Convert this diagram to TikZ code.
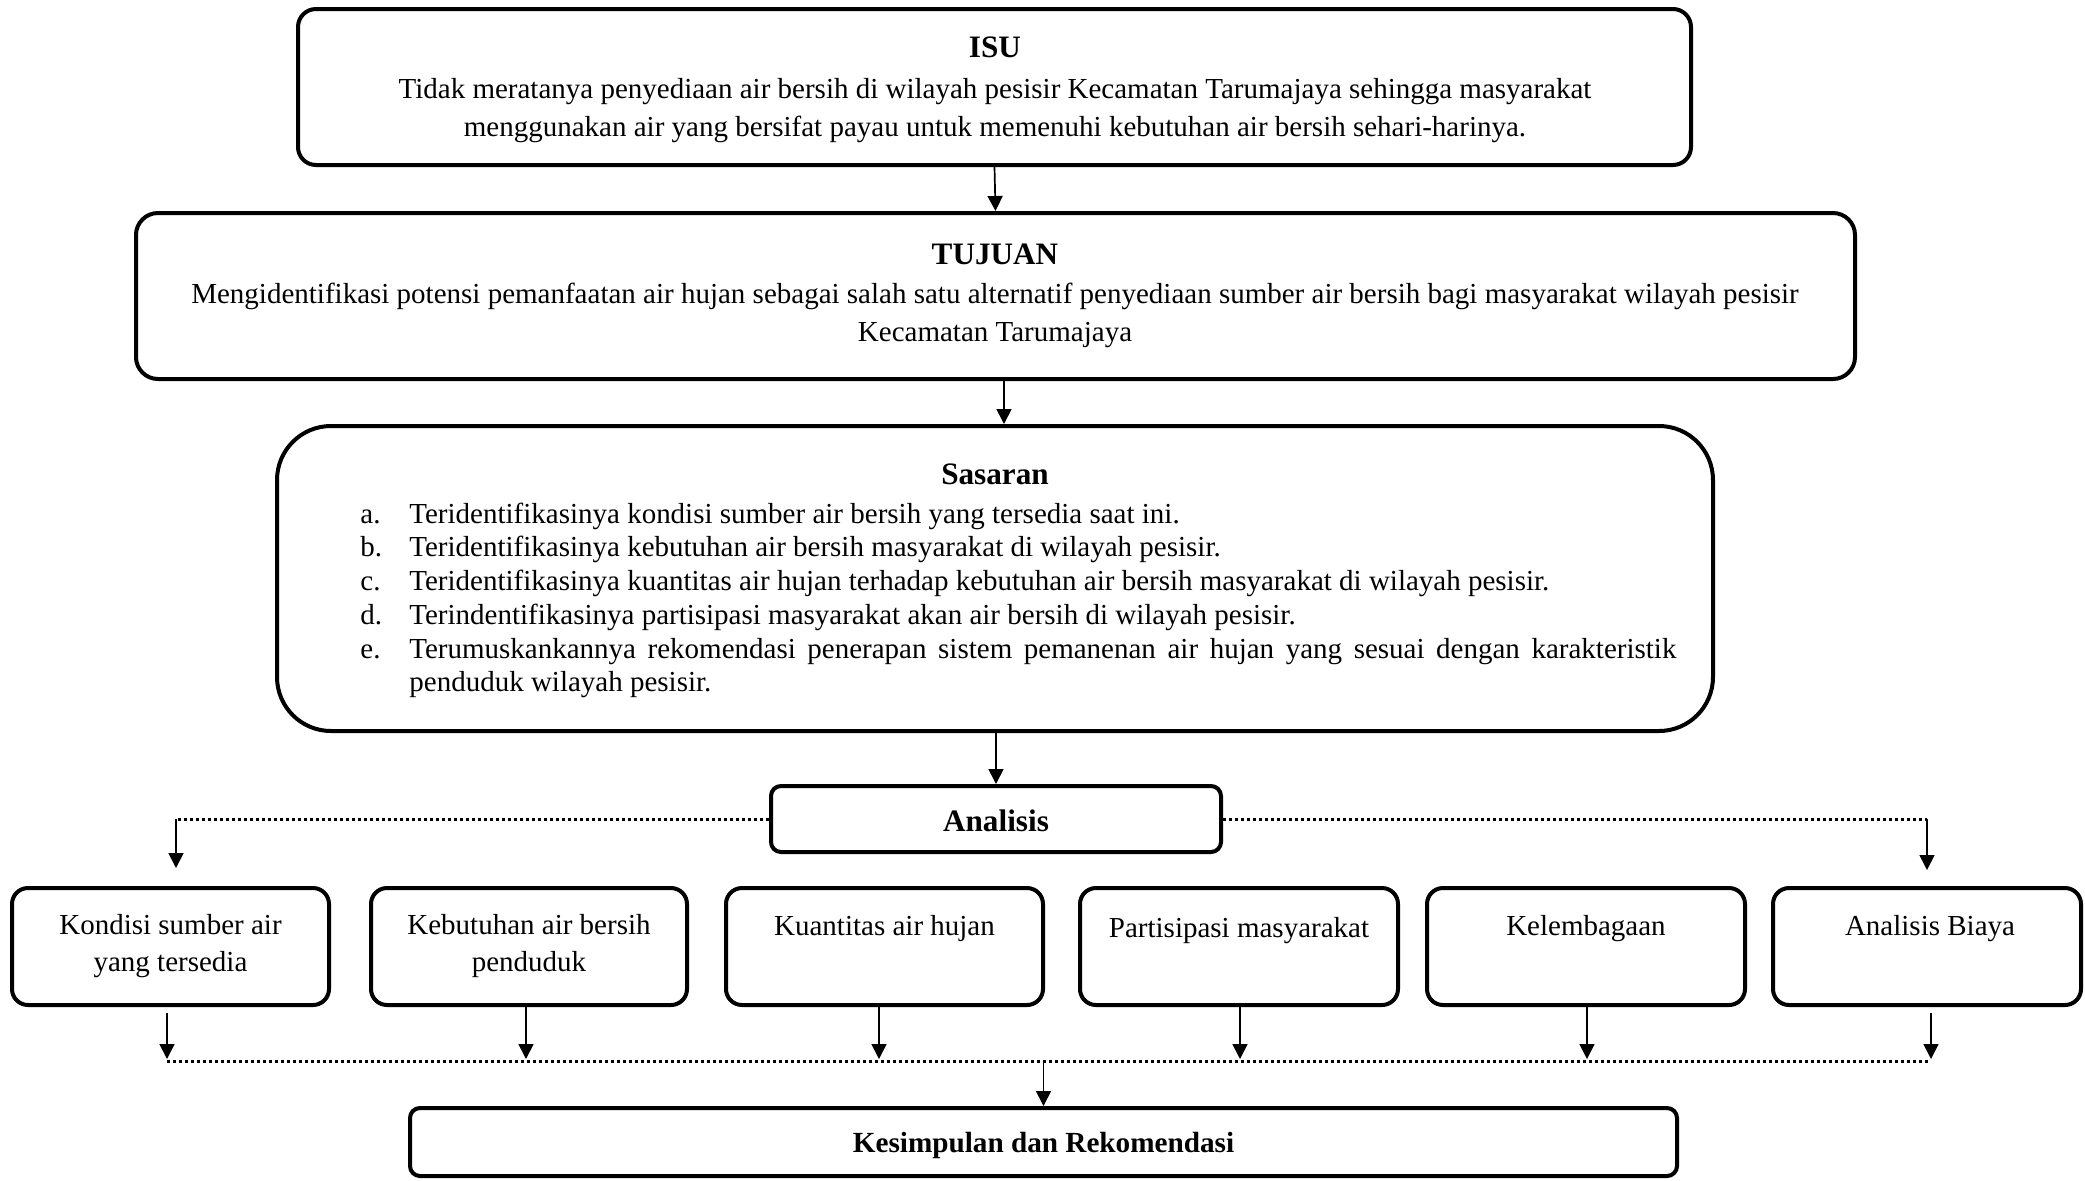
\documentclass[tikz,border=0pt]{standalone}
\usepackage{fontspec}
\setmainfont{Liberation Serif}
\usetikzlibrary{arrows.meta,fit}
\begin{document}
\begin{tikzpicture}[x=0.5pt,y=-0.5pt,
  bx/.style={draw, line width=2pt, rounded corners=#1, inner sep=0pt},
  txt/.style={inner sep=0pt, text height=0.7em, text depth=0.25em, yshift=-1.8pt, font=\fontsize{14.5}{18}\selectfont},
  ttl/.style={inner sep=0pt, text height=0.7em, text depth=0.25em, font=\fontsize{15.6}{19}\selectfont\bfseries},
  arr/.style={line width=0.85pt, -{Triangle[length=7.5pt,width=7.5pt]}},
  dots/.style={line width=1.5pt, dash pattern=on 1.5pt off 1.5pt},
]
\useasboundingbox (0,0) rectangle (2085,1180);

% ---- boxes
\node[bx=9pt,  fit={(298,9) (1691,165)}] (isu) {};
\node[bx=11pt, fit={(136,213) (1855,379)}] (tujuan) {};
\node[bx=27pt, fit={(277,426) (1713,731)}] (sasaran) {};
\node[bx=5pt,  fit={(771,786) (1221,852)}] (analisis) {};
\node[bx=8pt,  fit={(12,888) (329,1005)}] (b1) {};
\node[bx=8pt,  fit={(371,888) (687,1005)}] (b2) {};
\node[bx=8pt,  fit={(726,888) (1043,1005)}] (b3) {};
\node[bx=8pt,  fit={(1080,888) (1398,1005)}] (b4) {};
\node[bx=8pt,  fit={(1427,888) (1745,1005)}] (b5) {};
\node[bx=8pt,  fit={(1773,888) (2081,1005)}] (b6) {};
\node[bx=5pt,  fit={(410,1108) (1677,1176)}] (kes) {};

% ---- ISU text
\node[ttl] (isu-t) at (995,53) {ISU};
\node[txt] (isu-1) at (995,90) {Tidak meratanya penyediaan air bersih di wilayah pesisir Kecamatan Tarumajaya sehingga masyarakat};
\node[txt] (isu-2) at (995,128) {menggunakan air yang bersifat payau untuk memenuhi kebutuhan air bersih sehari-harinya.};

% ---- TUJUAN text
\node[ttl] (tuj-t) at (995,260) {TUJUAN};
\node[txt] (tuj-1) at (995,295) {Mengidentifikasi potensi pemanfaatan air hujan sebagai salah satu alternatif penyediaan sumber air bersih bagi masyarakat wilayah pesisir};
\node[txt] (tuj-2) at (995,333) {Kecamatan Tarumajaya};

% ---- Sasaran text
\node[ttl] (sas-t) at (995,480) {Sasaran};
\node[txt, anchor=west] (la) at (360,515) {a.};
\node[txt, anchor=west] (lb) at (360,548) {b.};
\node[txt, anchor=west] (lc) at (360,582) {c.};
\node[txt, anchor=west] (ld) at (360,616) {d.};
\node[txt, anchor=west] (le) at (360,650) {e.};
\node[txt, anchor=west] (ia) at (409,515) {Teridentifikasinya kondisi sumber air bersih yang tersedia saat ini.};
\node[txt, anchor=west] (ib) at (409,548) {Teridentifikasinya kebutuhan air bersih masyarakat di wilayah pesisir.};
\node[txt, anchor=west] (ic) at (409,582) {Teridentifikasinya kuantitas air hujan terhadap kebutuhan air bersih masyarakat di wilayah pesisir.};
\node[txt, anchor=west] (id) at (409,616) {Terindentifikasinya partisipasi masyarakat akan air bersih di wilayah pesisir.};
\node[txt, anchor=west] (ie1) at (409,650) {\makebox[633.5pt][s]{Terumuskankannya rekomendasi penerapan sistem pemanenan air hujan yang sesuai dengan karakteristik}};
\node[txt, anchor=west] (ie2) at (409,683) {penduduk wilayah pesisir.};

% ---- Analisis and sub boxes text
\node[ttl] (ana-t) at (996,827) {Analisis};
\node[txt] (b1-1) at (170.5,926) {Kondisi sumber air};
\node[txt] (b1-2) at (170.5,963) {yang tersedia};
\node[txt] (b2-1) at (529,926) {Kebutuhan air bersih};
\node[txt] (b2-2) at (529,963) {penduduk};
\node[txt] (b3-1) at (884.5,927) {Kuantitas air hujan};
\node[txt] (b4-1) at (1239,929) {Partisipasi masyarakat};
\node[txt] (b5-1) at (1586,927) {Kelembagaan};
\node[txt] (b6-1) at (1930,927) {Analisis Biaya};
\node[ttl, font=\fontsize{14.6}{18}\selectfont\bfseries] (kes-t) at (1043.5,1148) {Kesimpulan dan Rekomendasi};

% ---- connectors
\coordinate (x1004) at (1004,0);
\draw[arr] (isu.south) -- (tujuan.north);
\draw[arr] (tujuan.south -| x1004) -- (sasaran.north -| x1004);
\draw[arr] (sasaran.south -| analisis.north) -- (analisis.north);

\coordinate (tl) at (176,819);
\coordinate (tl2) at (176,868);
\coordinate (tr) at (1927,819);
\coordinate (tr2) at (1927,870);
\draw[dots] (analisis.west) -- (tl);
\draw[dots] (analisis.east) -- (tr);
\draw[arr] (tl) -- (tl2);
\draw[arr] (tr) -- (tr2);

\coordinate (bl) at (167,1061);
\coordinate (br) at (1931,1061);
\draw[dots] (bl) -- (br);
\coordinate (a1) at (167,1059);
\coordinate (a2) at (526,1059);
\coordinate (a3) at (879,1059);
\coordinate (a4) at (1240,1059);
\coordinate (a5) at (1587,1059);
\coordinate (a6) at (1931,1059);
\draw[arr, shorten <=3pt] (b1.south -| a1) -- (a1);
\draw[arr] (b2.south -| a2) -- (a2);
\draw[arr] (b3.south -| a3) -- (a3);
\draw[arr] (b4.south -| a4) -- (a4);
\draw[arr] (b5.south -| a5) -- (a5);
\draw[arr, shorten <=3pt] (b6.south -| a6) -- (a6);
\coordinate (km) at (1043.5,1061);
\draw[arr] (km) -- (kes.north);
\end{tikzpicture}
\end{document}
